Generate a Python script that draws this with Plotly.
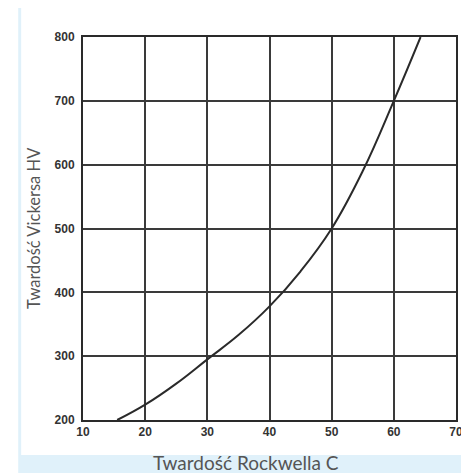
import plotly.graph_objects as go

# Data
hrc = [15.5, 20, 25, 30, 35, 40, 45, 50, 55, 60, 64.3]
hv = [200, 224, 257, 295, 333, 378, 433, 500, 590, 700, 800]

x_ticks = [10, 20, 30, 40, 50, 60, 70]
y_ticks = [200, 300, 400, 500, 600, 700, 800]

x_title = "Twardość Rockwella C"
y_title = "Twardość Vickersa HV"

# page body has an 8px margin, so the figure is drawn 8px in from the corner
OFF = 8
W, H = 469 - OFF, 473 - OFF
L, R, T, B = 83 - OFF, 6, 37 - OFF, 53
PW, PH = W - L - R, H - T - B


def px(xp):
    return (xp - OFF - L) / PW


def py(yp):
    return (H - B - (yp - OFF)) / PH


fig = go.Figure()
fig.add_trace(go.Scatter(
    x=hrc, y=hv, mode="lines",
    line=dict(color="#2a2a2a", width=2, shape="spline", smoothing=1.2),
    showlegend=False, hoverinfo="skip",
))

tickfont = dict(family="Liberation Sans", size=12, color="#333333", weight="bold")
axis_common = dict(
    showgrid=True, gridcolor="#3a3a3a", gridwidth=1.5,
    showline=True, linecolor="#2a2a2a", linewidth=2, mirror=True,
    zeroline=False, ticks="", tickfont=tickfont,
)

band = "#e0f1fa"
fig.update_layout(
    width=W, height=H,
    margin=dict(l=L, r=R, t=T, b=B, pad=0),
    paper_bgcolor="white", plot_bgcolor="white",
    xaxis=dict(range=[10, 70], tickvals=x_ticks, ticklabelstandoff=0, **axis_common),
    yaxis=dict(range=[200, 800], tickvals=y_ticks, ticklabelstandoff=4, **axis_common),
    shapes=[
        dict(type="rect", xref="paper", yref="paper",
             x0=px(17), x1=px(480), y0=py(480), y1=py(455),
             fillcolor=band, line=dict(width=0), layer="below"),
        dict(type="rect", xref="paper", yref="paper",
             x0=px(17), x1=px(20), y0=py(455), y1=py(6),
             fillcolor=band, line=dict(width=0), layer="below"),
    ],
    annotations=[
        dict(text=x_title, xref="paper", yref="paper",
             x=px(249), y=py(462),
             xanchor="center", yanchor="middle", showarrow=False,
             font=dict(family="Lato", size=19, color="#555555")),
        dict(text=y_title, xref="paper", yref="paper", textangle=-90,
             x=px(33), y=py(228),
             xanchor="center", yanchor="middle", showarrow=False,
             font=dict(family="Lato", size=16.5, color="#555555")),
    ],
)

fig.write_html("out.html")
